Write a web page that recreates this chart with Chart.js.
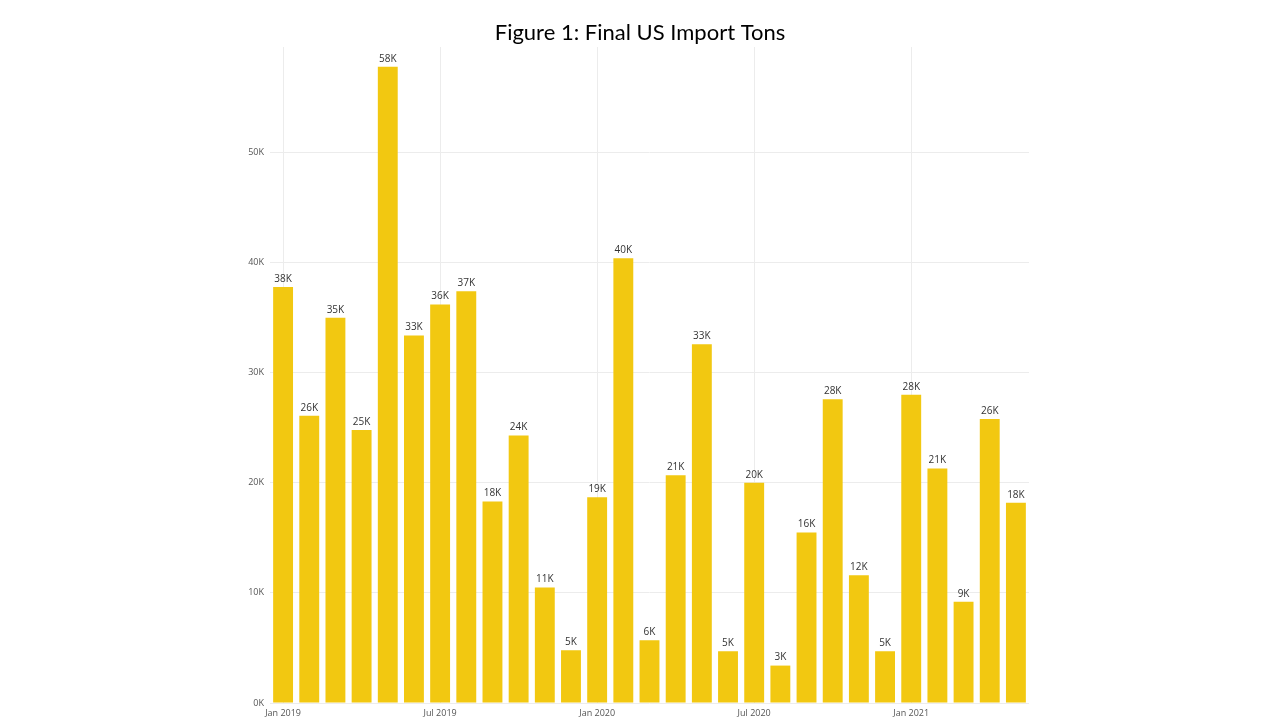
<!DOCTYPE html>
<html>
<head>
<meta charset="utf-8">
<script src="https://cdn.jsdelivr.net/npm/chart.js@4/dist/chart.umd.min.js"></script>
<style>
  html, body { margin: 0; padding: 0; background: #fff; }
  #wrap { width: 1280px; height: 720px; }
</style>
</head>
<body>
<div id="wrap"><canvas id="myChart" width="1280" height="720"></canvas></div>
<script>
// Meses (categorias) e toneladas importadas
const meses = [
  "Jan 2019", "Feb 2019", "Mar 2019", "Apr 2019", "May 2019", "Jun 2019",
  "Jul 2019", "Aug 2019", "Sep 2019", "Oct 2019", "Nov 2019", "Dec 2019",
  "Jan 2020", "Feb 2020", "Mar 2020", "Apr 2020", "May 2020", "Jun 2020",
  "Jul 2020", "Aug 2020", "Sep 2020", "Oct 2020", "Nov 2020", "Dec 2020",
  "Jan 2021", "Feb 2021", "Mar 2021", "Apr 2021", "May 2021"
];
const toneladas = [
  37800, 26100, 35000, 24800, 57800, 33400, 36200, 37400, 18300, 24300,
  10500, 4800, 18700, 40400, 5700, 20700, 32600, 4700, 20000, 3400,
  15500, 27600, 11600, 4700, 28000, 21300, 9200, 25800, 18200
];
const rotulosEixoX = ["Jan 2019", "Jul 2019", "Jan 2020", "Jul 2020", "Jan 2021"];
const ticksY = [0, 10000, 20000, 30000, 40000, 50000];
const titulo = "Figure 1: Final US Import Tons";

const fmtK = v => Math.round(v / 1000) + "K";

// Plugin simples para escrever o valor acima de cada barra e o título centrado na página
const rotulosBarras = {
  id: "rotulosBarras",
  afterDatasetsDraw(chart) {
    const ctx = chart.ctx;
    const meta = chart.getDatasetMeta(0);
    ctx.save();
    ctx.font = "10px 'Open Sans'";
    ctx.fillStyle = "#333";
    ctx.textAlign = "center";
    ctx.textBaseline = "bottom";
    meta.data.forEach((bar, i) => {
      ctx.fillText(fmtK(toneladas[i]), bar.x, bar.y - 3);
    });
    // título (o do Chart.js fica centrado só entre os paddings)
    ctx.font = "22px Lato";
    ctx.fillStyle = "#000";
    ctx.textBaseline = "middle";
    ctx.fillText(titulo, chart.width / 2, 33);
    ctx.restore();
  }
};

const config = {
  type: "bar",
  data: {
    labels: meses,
    datasets: [{
      data: toneladas,
      backgroundColor: "#F2C811",
      categoryPercentage: 1,
      barPercentage: 0.76
    }]
  },
  options: {
    responsive: false,
    animation: false,
    layout: { padding: { left: 225, right: 251, top: 47, bottom: 2 } },
    plugins: {
      legend: { display: false },
      tooltip: { enabled: false },
      title: { display: false }
    },
    scales: {
      x: {
        afterFit: axis => { axis.height = 15; },
        grid: {
          offset: false,
          drawTicks: false,
          color: ctx => (ctx.tick && rotulosEixoX.includes(meses[ctx.tick.value])) ? "#ececec" : "rgba(0,0,0,0)"
        },
        border: { display: false },
        ticks: {
          autoSkip: false,
          maxRotation: 0,
          padding: 5,
          color: "#555",
          font: { family: "Open Sans", size: 9 },
          callback: function (v) {
            const m = meses[v];
            return rotulosEixoX.includes(m) ? m : "";
          }
        }
      },
      y: {
        min: 0,
        max: 59600,
        afterBuildTicks: axis => { axis.ticks = ticksY.map(v => ({ value: v })); },
        afterFit: axis => { axis.width = 45; },
        grid: { color: "#ececec", drawTicks: false },
        border: { display: false },
        ticks: {
          padding: 6,
          color: "#555",
          font: { family: "Open Sans", size: 9 },
          callback: v => fmtK(v)
        }
      }
    }
  },
  plugins: [rotulosBarras]
};

new Chart(document.getElementById("myChart").getContext("2d"), config);
</script>
</body>
</html>
